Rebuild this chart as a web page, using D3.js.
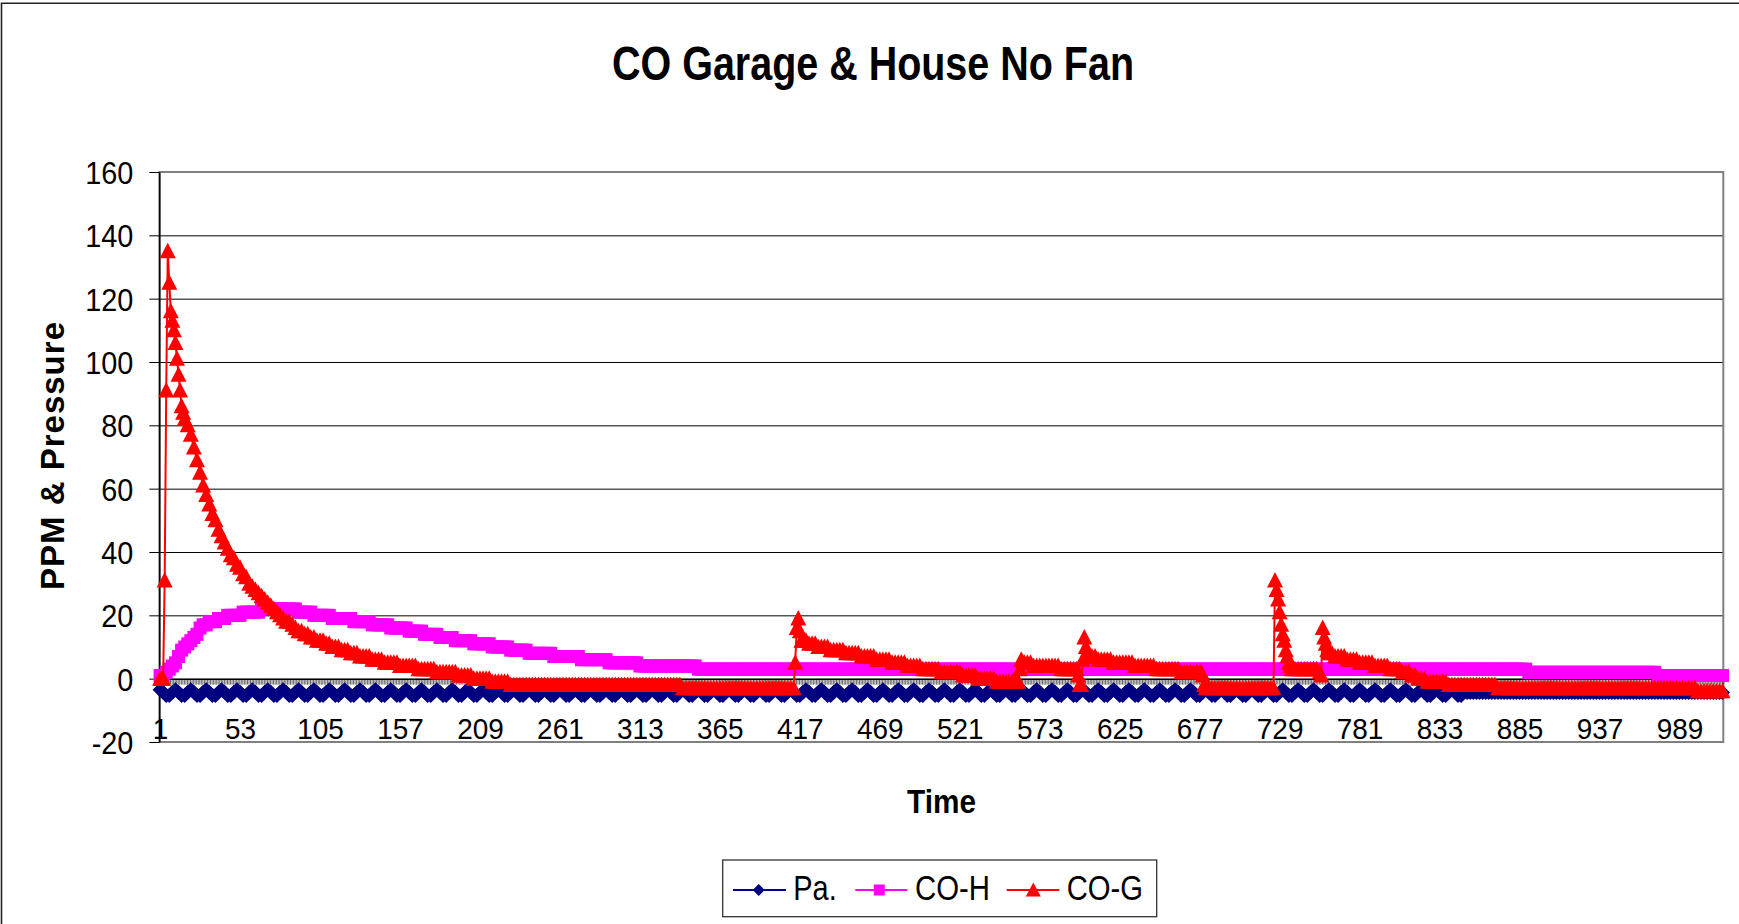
<!DOCTYPE html>
<html><head><meta charset="utf-8">
<script src="https://cdn.jsdelivr.net/npm/d3@7"></script>
<style>
html,body{margin:0;padding:0;background:#fff;}
svg{display:block;}
text{font-family:"Liberation Sans",Arial,Helvetica,sans-serif;}
</style>
</head><body>
<svg id="chart" width="1739" height="924"></svg>
<script>
// ---------------- DATA ----------------
const chartTitle = "CO Garage & House No Fan";
const yTitle = "PPM & Pressure";
const xTitle = "Time";
const seriesNames = ["Pa.", "CO-H", "CO-G"];
const seriesColors = ["#000080", "#FF00FF", "#FF0000"];
const categoryCount = 1017;
const xTickLabels = [1,53,105,157,209,261,313,365,417,469,521,573,625,677,729,781,833,885,937,989];
const yTicks = [-20,0,20,40,60,80,100,120,140,160];
// values read every second time step (1,3,5,...,1017)
const sampleTimes = d3.range(1, categoryCount + 1, 2);

const paValues = [
-3.5,-4.3,-5.3,-5.3,-4.3,-3.5,-4.3,-5.3,-5.3,-4.3,-3.5,-4.3,-5.3,-5.3,-4.3,-3.5,-4.3,-5.3,-5.3,-4.3,-3.5,-4.3,-5.3,-5.3,-4.3,-3.5,
-4.3,-5.3,-5.3,-4.3,-3.5,-4.3,-5.3,-5.3,-4.3,-3.5,-4.3,-5.3,-5.3,-4.3,-3.5,-4.3,-5.3,-5.3,-4.3,-3.5,-4.3,-5.3,-5.3,-4.3,-3.5,-4.3,
-5.3,-5.3,-4.3,-3.5,-4.3,-5.3,-5.3,-4.3,-3.5,-4.3,-5.3,-5.3,-4.3,-3.5,-4.3,-5.3,-5.3,-4.3,-3.5,-4.3,-5.3,-5.3,-4.3,-3.5,-4.3,-5.3,
-5.3,-4.3,-3.5,-4.3,-5.3,-5.3,-4.3,-3.5,-4.3,-5.3,-5.3,-4.3,-3.5,-4.3,-5.3,-5.3,-4.3,-3.5,-4.3,-5.3,-5.3,-4.3,-3.5,-4.3,-5.3,-5.3,
-4.3,-3.5,-4.3,-5.3,-5.3,-4.3,-3.5,-4.3,-5.3,-5.3,-4.3,-3.5,-4.3,-5.3,-5.3,-4.3,-3.5,-4.3,-5.3,-5.3,-4.3,-3.5,-4.3,-5.3,-5.3,-4.3,
-3.5,-4.3,-5.3,-5.3,-4.3,-3.5,-4.3,-5.3,-5.3,-4.3,-3.5,-4.3,-5.3,-5.3,-4.3,-3.5,-4.3,-5.3,-5.3,-4.3,-3.5,-4.3,-5.3,-5.3,-4.3,-3.5,
-4.3,-5.3,-5.3,-4.3,-3.5,-4.3,-5.3,-5.3,-4.3,-3.5,-4.3,-5.3,-5.3,-4.3,-3.5,-4.3,-5.3,-5.3,-4.3,-3.5,-4.3,-5.3,-5.3,-4.3,-3.5,-4.3,
-5.3,-5.3,-4.3,-3.5,-4.3,-5.3,-5.3,-4.3,-3.5,-4.3,-5.3,-5.3,-4.3,-3.5,-4.3,-5.3,-5.3,-4.3,-3.5,-4.3,-5.3,-5.3,-4.3,-3.5,-4.3,-5.3,
-5.3,-4.3,-3.5,-4.3,-5.3,-5.3,-4.3,-3.5,-4.3,-5.3,-5.3,-4.3,-3.5,-4.3,-5.3,-5.3,-4.3,-3.5,-4.3,-5.3,-5.3,-4.3,-3.5,-4.3,-5.3,-5.3,
-4.3,-3.5,-4.3,-5.3,-5.3,-4.3,-3.5,-4.3,-5.3,-5.3,-4.3,-3.5,-4.3,-5.3,-5.3,-4.3,-3.5,-4.3,-5.3,-5.3,-4.3,-3.5,-4.3,-5.3,-5.3,-4.3,
-3.5,-4.3,-5.3,-5.3,-4.3,-3.5,-4.3,-5.3,-5.3,-4.3,-3.5,-4.3,-5.3,-5.3,-4.3,-3.5,-4.3,-5.3,-5.3,-4.3,-3.5,-4.3,-5.3,-5.3,-4.3,-3.5,
-4.3,-5.3,-5.3,-4.3,-3.5,-4.3,-5.3,-5.3,-4.3,-3.5,-4.3,-5.3,-5.3,-4.3,-3.5,-4.3,-5.3,-5.3,-4.3,-3.5,-4.3,-5.3,-5.3,-4.3,-3.5,-4.3,
-5.3,-5.3,-4.3,-3.5,-4.3,-5.3,-5.3,-4.3,-3.5,-4.3,-5.3,-5.3,-4.3,-3.5,-4.3,-5.3,-5.3,-4.3,-3.5,-4.3,-5.3,-5.3,-4.3,-3.5,-4.3,-5.3,
-5.3,-4.3,-3.5,-4.3,-5.3,-5.3,-4.3,-3.5,-4.3,-5.3,-5.3,-4.3,-3.5,-4.3,-5.3,-5.3,-4.3,-3.5,-4.3,-5.3,-5.3,-4.3,-3.5,-4.3,-5.3,-5.3,
-4.3,-3.5,-4.3,-5.3,-5.3,-4.3,-3.5,-4.3,-5.3,-5.3,-4.3,-3.5,-4.3,-5.3,-5.3,-4.3,-3.5,-4.3,-5.3,-5.3,-4.3,-3.5,-4.3,-5.3,-5.3,-4.3,
-3.5,-4.3,-5.3,-5.3,-4.3,-3.5,-4.3,-5.3,-5.3,-4.3,-3.5,-4.3,-5.3,-5.3,-4.3,-3.5,-4.3,-5.3,-5.3,-4.3,-3.5,-4.3,-5.3,-5.3,-4.3,-3.5,
-4.3,-5.3,-5.3,-4.3,-3.5,-4.3,-5.3,-5.3,-4.3,-4.4,-4.4,-4.4,-4.4,-4.4,-4.4,-4.4,-4.4,-4.4,-4.4,-4.4,-4.4,-4.4,-4.4,-4.4,-4.4,-4.4,
-4.4,-4.4,-4.4,-4.4,-4.4,-4.4,-4.4,-4.4,-4.4,-4.4,-4.4,-4.4,-4.4,-4.4,-4.4,-4.4,-4.4,-4.4,-4.4,-4.4,-4.4,-4.4,-4.4,-4.4,-4.4,-4.4,
-4.4,-4.4,-4.4,-4.4,-4.4,-4.4,-4.4,-4.4,-4.4,-4.4,-4.4,-4.4,-4.4,-4.4,-4.4,-4.4,-4.4,-4.4,-4.4,-4.4,-4.4,-4.4,-4.4,-4.4,-4.4,-4.4,
-4.4,-4.4,-4.4,-4.4,-4.4,-4.4,-4.4,-4.4,-4.4,-4.4,-4.4,-4.4,-4.4,-4.4,-4.4
];

const coHValues = [
1,1,2,3,4,5,7,9,10,11,12,13,14,16,17,17,18,18,18,19,19,19,20,20,20,20,
20,21,21,21,21,21,21,22,22,22,22,22,22,22,22,22,22,22,22,21,21,21,21,21,20,20,
20,20,20,20,19,19,19,19,19,19,19,18,18,18,18,18,18,17,17,17,17,17,17,16,16,16,
16,16,16,15,15,15,15,15,14,14,14,14,14,13,13,13,13,13,12,12,12,12,12,12,11,11,
11,11,11,11,10,10,10,10,10,10,9,9,9,9,9,9,8,8,8,8,8,8,8,8,7,7,
7,7,7,7,7,7,7,6,6,6,6,6,6,6,6,6,5,5,5,5,5,5,5,5,5,5,
4,4,4,4,4,4,4,4,4,4,4,4,4,4,4,4,4,4,4,3,3,3,3,3,3,3,
3,3,3,3,3,3,3,3,3,3,3,3,3,3,3,3,3,3,3,3,3,3,3,3,3,3,
3,3,3,3,3,3,3,3,3,3,3,3,3,3,3,3,3,3,3,3,3,3,3,3,3,3,
3,3,3,3,3,3,3,3,3,3,3,3,3,3,3,3,3,3,3,3,3,3,3,3,3,3,
3,3,3,3,3,3,3,3,3,3,3,3,3,3,3,3,3,3,3,3,3,3,3,3,3,3,
3,3,3,3,3,3,3,3,3,3,3,3,3,3,3,3,3,3,3,3,3,3,3,3,3,3,
3,3,3,3,3,3,3,3,3,3,3,3,3,3,3,3,3,3,3,3,3,3,3,3,3,3,
3,3,3,3,3,3,3,3,3,3,3,3,3,3,3,3,3,3,3,3,3,3,3,3,3,3,
3,3,3,3,3,3,3,3,3,3,3,3,3,3,3,3,3,3,3,3,3,3,3,3,3,3,
3,3,3,3,3,3,3,3,3,3,3,3,3,3,3,3,3,3,3,3,3,3,3,3,3,3,
3,3,3,3,3,3,3,3,3,3,3,3,3,3,3,3,3,3,3,3,3,3,3,3,3,3,
3,3,3,2,2,2,2,2,2,2,2,2,2,2,2,2,2,2,2,2,2,2,2,2,2,2,
2,2,2,2,2,2,2,2,2,2,2,2,2,2,2,2,2,2,2,1,1,1,1,1,1,1,
1,1,1,1,1,1,1,1,1,1,1,1,1,1,1
];

const coGValues = [
0,0,91,125,113,106,96,86,82,80,77,73,69,65,61,58,55,52,50,47,45,43,41,39,38,36,
35,33,32,30,29,28,27,26,25,24,23,22,21,20,19,18,18,17,16,15,15,14,14,13,13,12,
12,12,11,11,10,10,10,9,9,9,8,8,8,7,7,7,7,6,6,6,6,5,5,5,5,5,
4,4,4,4,4,4,3,3,3,3,3,3,2,2,2,2,2,2,2,1,1,1,1,1,0,0,
0,0,0,0,-1,-1,-1,-1,-1,-1,-2,-2,-2,-2,-2,-2,-2,-2,-2,-2,-2,-2,-2,-2,-2,-2,
-2,-2,-2,-2,-2,-2,-2,-2,-2,-2,-2,-2,-2,-2,-2,-2,-2,-2,-2,-2,-2,-2,-2,-2,-2,-2,
-2,-2,-2,-2,-2,-2,-2,-2,-2,-2,-2,-2,-2,-2,-3,-3,-3,-3,-3,-3,-3,-3,-3,-3,-3,-3,
-3,-3,-3,-3,-3,-3,-3,-3,-3,-3,-3,-3,-3,-3,-3,-3,-3,-3,-3,-3,-3,-3,-3,-3,-3,16,
15,12,12,11,11,11,10,10,10,10,9,9,9,9,9,8,8,8,8,8,7,7,7,7,7,6,
6,6,6,6,5,5,5,5,5,4,4,4,4,4,3,3,3,3,3,3,2,2,2,2,2,2,
2,1,1,1,1,1,0,0,0,0,0,0,-1,-1,-1,-1,-1,-1,-1,-1,6,5,5,5,4,4,
4,4,4,4,4,4,4,3,3,3,3,3,3,-2,6,10,7,7,7,6,6,6,6,6,5,5,
5,5,5,5,5,4,4,4,4,4,4,4,3,3,3,3,3,3,3,3,2,2,2,2,2,2,
2,1,-3,-3,-3,-3,-3,-3,-3,-3,-3,-3,-3,-3,-3,-3,-3,-3,-3,-3,-3,-3,-3,-3,-3,28,
21,14,9,5,3,3,3,3,3,3,3,3,3,2,16,11,8,8,7,7,7,7,6,6,6,6,
5,5,5,5,5,4,4,4,4,4,3,3,3,3,2,2,2,1,1,0,0,0,-1,-1,-1,-1,
-1,-1,-1,-2,-2,-2,-2,-2,-2,-2,-2,-2,-2,-2,-2,-2,-2,-2,-2,-3,-3,-3,-3,-3,-3,-3,
-3,-3,-3,-3,-3,-3,-3,-3,-3,-3,-3,-3,-3,-3,-3,-3,-3,-3,-3,-3,-3,-3,-3,-3,-3,-3,
-3,-3,-3,-3,-3,-3,-3,-3,-3,-3,-3,-3,-3,-3,-3,-3,-3,-3,-3,-3,-3,-3,-3,-3,-3,-3,
-3,-3,-3,-3,-3,-3,-4,-4,-4,-4,-4,-4,-4,-4,-4
];
// extra CO-G readings at the in-between steps around the sharp peaks
const coGDetailTimes  = [2,4,6,8,10,12,14,16, 414,416,418, 560,562, 598,600,602,604, 678,680, 726,728,730,732,734,736, 756,758,760];
const coGDetailValues = [0,31,135,116,110,101,91,84, 5,19,12, 3,5, 1,-2,13,8, 2,-2, 31,25,17,12,7,4, 1,13,9];

// ---------------- BUILD ----------------
const paData = sampleTimes.map((t, i) => ({t, v: paValues[i]}));
const coHData = sampleTimes.map((t, i) => ({t, v: coHValues[i]}));
const coGData = sampleTimes.map((t, i) => ({t, v: coGValues[i]}))
  .concat(coGDetailTimes.map((t, i) => ({t, v: coGDetailValues[i]})))
  .sort((a, b) => a.t - b.t);

const W = 1739, H = 924;
const plot = {left: 159.3, right: 1723.3, top: 172, bottom: 742};
const x = d3.scaleLinear().domain([0.5, categoryCount + 0.5]).range([plot.left, plot.right]);
const y = d3.scaleLinear().domain([-20, 160]).range([plot.bottom, plot.top]);

const svg = d3.select("#chart");
svg.append("rect").attr("width", W).attr("height", H).attr("fill", "#fff");
svg.append("path").attr("d", `M1.5,${H}V3.2H${W}`).attr("fill", "none")
  .attr("stroke", "#222").attr("stroke-width", 1.6);

function squeeze(sel, f) {
  sel.each(function() {
    const n = this.getComputedTextLength();
    this.setAttribute("textLength", (n * f).toFixed(1));
    this.setAttribute("lengthAdjust", "spacingAndGlyphs");
  });
}

// gridlines
const grid = svg.append("g").attr("transform", `translate(${plot.left},0)`)
  .call(d3.axisLeft(y).tickValues(yTicks.filter(v => v > 0)).tickSize(-(plot.right - plot.left)).tickFormat(""));
grid.select(".domain").remove();
grid.selectAll("line").attr("stroke", "#000").attr("stroke-width", 1);

// plot border
svg.append("rect").attr("x", plot.left).attr("y", plot.top)
  .attr("width", plot.right - plot.left).attr("height", plot.bottom - plot.top)
  .attr("fill", "none").attr("stroke", "#808080").attr("stroke-width", 2);

// category axis at zero with a tick for every time step
const catAxis = svg.append("g").attr("transform", `translate(0,${y(0)})`)
  .call(d3.axisBottom(x).tickValues(d3.range(0.5, categoryCount + 1, 1)).tickSize(6).tickSizeOuter(0).tickFormat(""));
catAxis.selectAll(".tick line").attr("stroke", "#000").attr("stroke-width", 0.6);
catAxis.select(".domain").attr("stroke", "#000").attr("stroke-width", 1.5);

// category labels along the bottom
const xLab = svg.append("g").attr("transform", `translate(0,739)`)
  .call(d3.axisBottom(x).tickValues(xTickLabels).tickSize(0).tickPadding(0).tickFormat(d => String(d)));
xLab.select(".domain").remove();
xLab.selectAll("text").attr("y", 0).attr("dy", 0).attr("font-size", 30)
  .attr("fill", "#000").attr("font-family", "'Liberation Sans',Arial,sans-serif");
squeeze(xLab.selectAll("text"), 0.93);

// y axis
const yAx = svg.append("g").attr("transform", `translate(${plot.left},0)`)
  .call(d3.axisLeft(y).tickValues(yTicks).tickSize(10).tickSizeOuter(0).tickPadding(16).tickFormat(d => String(d)));
yAx.select(".domain").attr("stroke", "#000").attr("stroke-width", 1.5);
yAx.selectAll(".tick line").attr("stroke", "#000").attr("stroke-width", 1);
yAx.selectAll("text").attr("font-size", 32).attr("dy", "0.36em").attr("fill", "#000")
  .attr("font-family", "'Liberation Sans',Arial,sans-serif");
squeeze(yAx.selectAll("text"), 0.9);

// series
const plotMarkers = {
  diamond: "M0,-7.5L7.5,0L0,7.5L-7.5,0Z",
  square: "M-6.5,-6.5H6.5V6.5H-6.5Z",
  triangle: "M0,-8.5L8,7L-8,7Z"
};
const legendMarkers = {
  diamond: "M0,-6L6,0L0,6L-6,0Z",
  square: "M-5.5,-5.5H5.5V5.5H-5.5Z",
  triangle: "M0,-7.5L7.5,6.5L-7.5,6.5Z"
};
const line = d3.line().x(d => x(d.t)).y(d => y(d.v));
const allSeries = [
  {name: seriesNames[0], color: seriesColors[0], data: paData, marker: "diamond"},
  {name: seriesNames[1], color: seriesColors[1], data: coHData, marker: "square"},
  {name: seriesNames[2], color: seriesColors[2], data: coGData, marker: "triangle"}
];
allSeries.forEach(s => {
  const g = svg.append("g");
  g.append("path").datum(s.data).attr("d", line).attr("fill", "none")
    .attr("stroke", s.color).attr("stroke-width", 2);
  g.selectAll("path.m").data(s.data).join("path").attr("class", "m")
    .attr("d", plotMarkers[s.marker]).attr("fill", s.color)
    .attr("transform", d => `translate(${x(d.t)},${y(d.v)})`);
});

// titles
svg.append("text").attr("x", 873).attr("y", 80).attr("text-anchor", "middle")
  .attr("font-size", 48).attr("font-weight", "bold")
  .attr("textLength", 522).attr("lengthAdjust", "spacingAndGlyphs").text(chartTitle);

svg.append("text").attr("transform", "translate(64,456) rotate(-90)").attr("text-anchor", "middle")
  .attr("font-size", 33).attr("font-weight", "bold").attr("textLength", 268).attr("lengthAdjust", "spacing")
  .text(yTitle);

svg.append("text").attr("x", 941.5).attr("y", 813).attr("text-anchor", "middle")
  .attr("font-size", 33).attr("font-weight", "bold").attr("textLength", 69)
  .attr("lengthAdjust", "spacingAndGlyphs").text(xTitle);

// legend
const leg = svg.append("g");
leg.append("rect").attr("x", 722.7).attr("y", 860).attr("width", 434).attr("height", 56.7)
  .attr("fill", "#fff").attr("stroke", "#333").attr("stroke-width", 1.3);
const legItems = [
  {x0: 733, x1: 786, mx: 758.7, tx: 793.3, tw: 43.4},
  {x0: 855.3, x1: 907.3, mx: 879.3, tx: 915, tw: 75},
  {x0: 1006.7, x1: 1059.3, mx: 1033.3, tx: 1066.7, tw: 76.3}
];
allSeries.forEach((s, i) => {
  const it = legItems[i];
  leg.append("line").attr("x1", it.x0).attr("x2", it.x1).attr("y1", 890).attr("y2", 890)
    .attr("stroke", s.color).attr("stroke-width", 2);
  leg.append("path").attr("d", legendMarkers[s.marker]).attr("fill", s.color)
    .attr("transform", `translate(${it.mx},890)`);
  leg.append("text").attr("x", it.tx).attr("y", 900).attr("font-size", 35)
    .attr("textLength", it.tw).attr("lengthAdjust", "spacingAndGlyphs").text(s.name);
});
</script>
</body></html>
